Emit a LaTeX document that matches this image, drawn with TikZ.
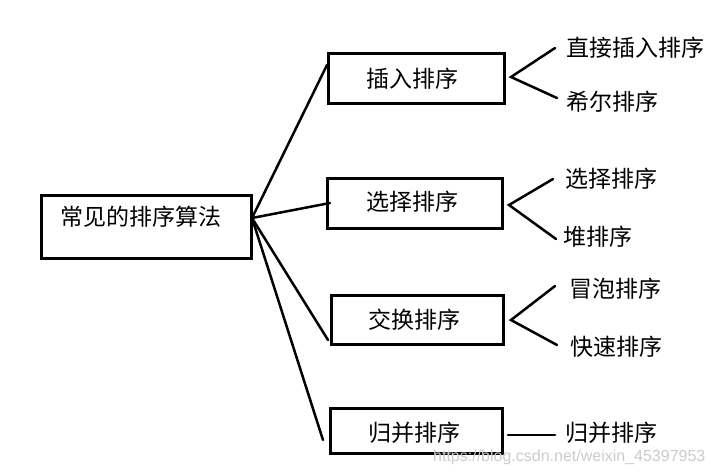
\documentclass[tikz,border=0pt]{standalone}
\usepackage{fontspec}
\newfontfamily\cjk{Noto Sans CJK SC}
\newfontfamily\wmfont{Liberation Sans}
\begin{document}
\begin{tikzpicture}[x=1pt,y=-1pt,
  box/.style={draw=black,line width=3pt,rectangle,inner sep=0pt},
  lbl/.style={font=\cjk\fontsize{23}{26}\selectfont,inner sep=0pt,anchor=west},
  conn/.style={line width=2.5pt,line cap=round}]
\useasboundingbox (0,0) rectangle (715,475);
\fill[white] (0,0) rectangle (715,475);
% main box
\node[box,minimum width=210pt,minimum height=63pt] (main) at (146,226.5) {};
\node[lbl] (maint) at (60,217) {常见的排序算法};
\coordinate (hub) at (252,218);
% category boxes
\node[box,minimum width=176pt,minimum height=50pt] (ins) at (416,78) {};
\node[lbl,anchor=center] at (412,79) {插入排序};
\node[box,minimum width=175pt,minimum height=50pt] (sel) at (414.5,203) {};
\node[lbl,anchor=center] at (412,202) {选择排序};
\node[box,minimum width=172pt,minimum height=49pt] (exc) at (417,319.5) {};
\node[lbl,anchor=center] at (414,320) {交换排序};
\node[box,minimum width=172pt,minimum height=45pt] (mer) at (416,430.5) {};
\node[lbl,anchor=center] at (414,433) {归并排序};
% end points near boxes
\coordinate (e1) at (327,65);
\coordinate (e2) at (330,203);
\coordinate (e3) at (328,340);
\coordinate (e4) at (323,440);
\draw[conn] (hub) -- (e1);
\draw[conn] (hub) -- (e2);
\draw[conn] (hub) -- (e3);
\draw[conn] (hub) -- (e4);
% leaves
\node[lbl] (l1) at (566,48) {直接插入排序};
\node[lbl] (l2) at (566,102) {希尔排序};
\node[lbl] (l3) at (565,179) {选择排序};
\node[lbl] (l4) at (563,237) {堆排序};
\node[lbl] (l5) at (569,289) {冒泡排序};
\node[lbl] (l6) at (570,347) {快速排序};
\node[lbl] (l7) at (565,433) {归并排序};
% branches
\coordinate (a1) at (511,77);
\coordinate (a2) at (509,205);
\coordinate (a3) at (511,320);
\draw[conn] ([xshift=-11pt]l1.west) -- (a1) -- ([xshift=-9pt,yshift=4pt]l2.west);
\draw[conn] ([xshift=-12pt]l3.west) -- (a2) -- ([xshift=-7pt,yshift=-2pt]l4.west);
\draw[conn] ([xshift=-14pt,yshift=3pt]l5.west) -- (a3) -- ([xshift=-13pt,yshift=2pt]l6.west);
\draw[conn] ([xshift=-57pt,yshift=-2pt]l7.west) -- ([xshift=-10pt,yshift=-2pt]l7.west);
% watermark
\node[font=\wmfont\fontsize{16}{18}\selectfont,text=gray!40,inner sep=0pt,anchor=west] (wm) at (433,457) {https://blog.csdn.net/weixin\_45397953};
\end{tikzpicture}
\end{document}
